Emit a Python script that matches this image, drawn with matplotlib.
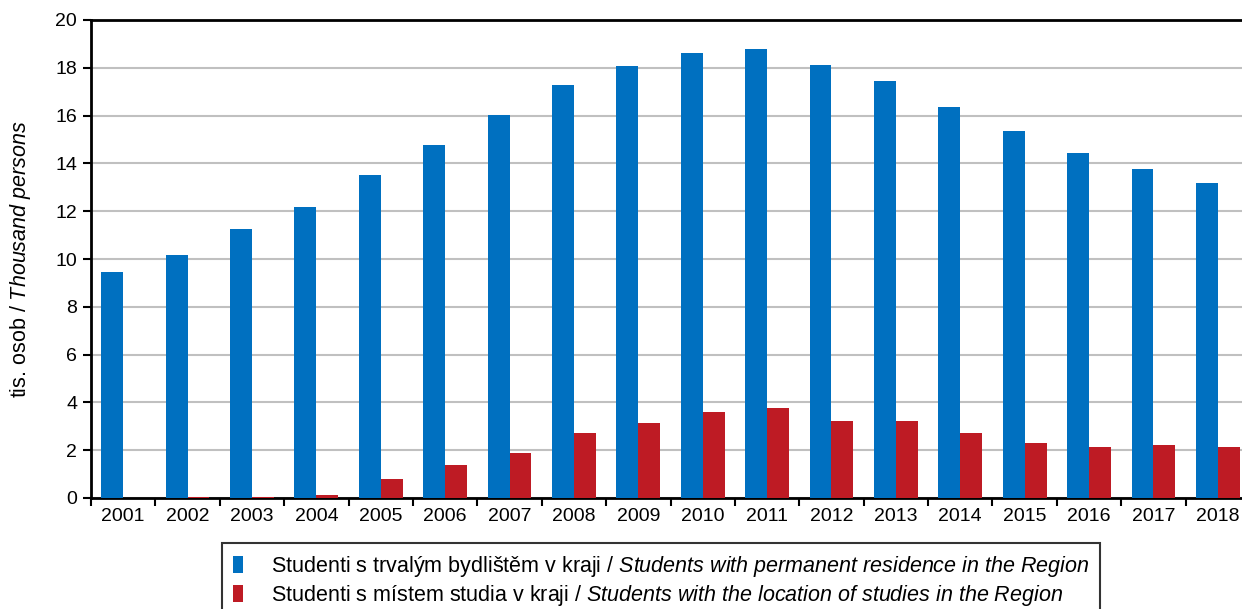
import matplotlib.pyplot as plt
import numpy as np

plt.rcParams['font.family'] = ['Liberation Sans', 'DejaVu Sans']
plt.rcParams['mathtext.fontset'] = 'custom'
plt.rcParams['mathtext.rm'] = 'Liberation Sans'
plt.rcParams['mathtext.it'] = 'Liberation Sans:italic'

# data (thousand persons)
years = ['2001', '2002', '2003', '2004', '2005', '2006', '2007', '2008', '2009',
         '2010', '2011', '2012', '2013', '2014', '2015', '2016', '2017', '2018']
residence = [9.46, 10.17, 11.26, 12.18, 13.51, 14.77, 16.03, 17.28, 18.08,
             18.62, 18.79, 18.12, 17.45, 16.36, 15.36, 14.44, 13.77, 13.18]
study = [0.02, 0.03, 0.03, 0.12, 0.80, 1.38, 1.88, 2.72, 3.14,
         3.60, 3.77, 3.22, 3.22, 2.72, 2.30, 2.13, 2.22, 2.13]

label_res = r'Studenti s trvalým bydlištěm v kraji / $\mathit{Students\ with\ permanent\ residence\ in\ the\ Region}$'
label_stu = r'Studenti s místem studia v kraji / $\mathit{Students\ with\ the\ location\ of\ studies\ in\ the\ Region}$'

fig = plt.figure(figsize=(12.42, 6.09), dpi=100)
ax = fig.add_axes([91/1242, 1 - 498/609, 1159/1242, 478/609])

x = np.arange(len(years))
w = 0.34
ax.bar(x - w/2, residence, w, color='#0070c0', label=label_res, zorder=3)
ax.bar(x + w/2, study, w, color='#be1b24', label=label_stu, zorder=3)

ax.set_xlim(-0.5, len(years) - 0.5)
ax.set_ylim(0, 20)
ax.set_yticks(np.arange(0, 21, 2))
ax.yaxis.grid(True, color='#c0c0c0', lw=1.5, zorder=0)
ax.set_axisbelow(True)

ax.set_xticks(x)
ax.set_xticklabels(years)
ax.set_xticks(np.arange(-0.5, len(years), 1), minor=True)
ax.tick_params(axis='x', which='major', length=0, labelsize=14, pad=7)
ax.tick_params(axis='x', which='minor', length=6, width=1.5)
ax.tick_params(axis='y', length=6, width=1.5, labelsize=14, pad=4)

for s in ['left', 'bottom', 'top']:
    ax.spines[s].set_linewidth(2)
    ax.spines[s].set_color('black')
ax.spines['right'].set_visible(False)

ax.set_ylabel(r'tis. osob / $\mathit{Thousand\ persons}$', fontsize=15.5, labelpad=16)

leg = ax.legend(loc='upper left', bbox_to_anchor=(222/1242, 1 - 543/609),
                bbox_transform=fig.transFigure, fontsize=15.5, frameon=True,
                fancybox=False, edgecolor='black', handlelength=0.47,
                handleheight=0.8, handletextpad=1.3, labelspacing=0.2,
                borderpad=0.5, borderaxespad=0)
leg.get_frame().set_linewidth(1.5)

fig.savefig('out.png', dpi=100)
